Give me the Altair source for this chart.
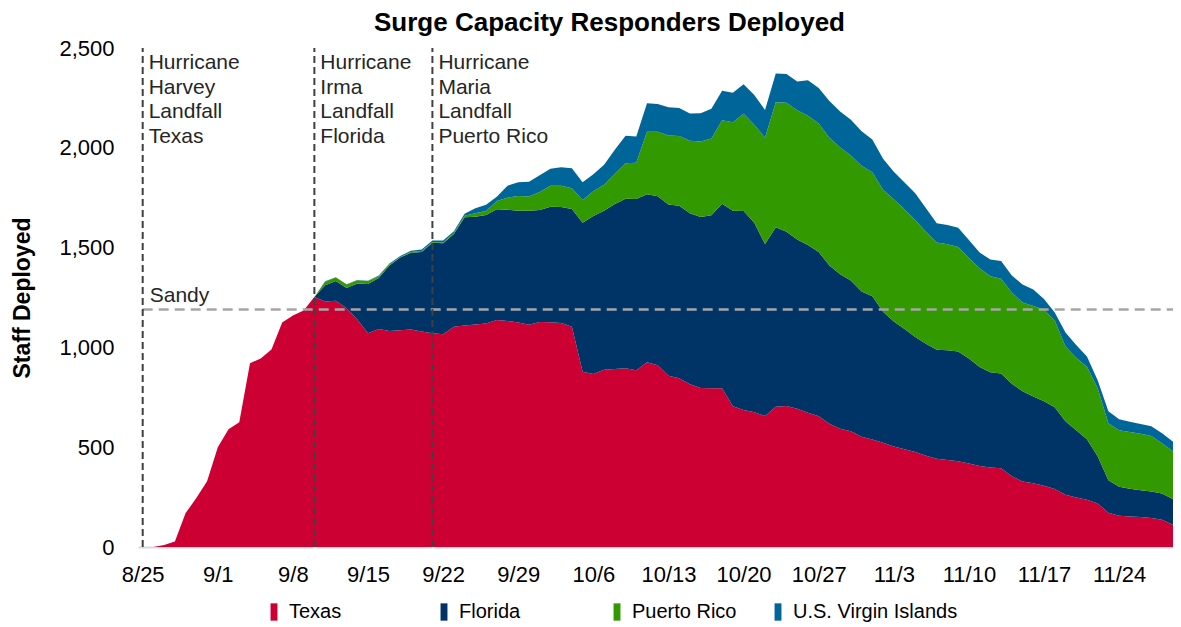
import altair as alt
import pandas as pd

# ---------------- data ----------------
series = ["Texas", "Florida", "Puerto Rico", "U.S. Virgin Islands"]
colors = ["#CC0033", "#003366", "#339900", "#006699"]
start_date = "2017-08-25"

texas = [0, 0, 10, 27, 170, 245, 330, 500, 590, 625,
         920, 945, 990, 1125, 1160, 1185, 1252, 1230, 1234, 1196,
         1140, 1071, 1092, 1082, 1086, 1090, 1080, 1071, 1066, 1104,
         1110, 1115, 1120, 1137, 1132, 1125, 1113, 1127, 1126, 1122,
         1104, 878, 867, 888, 892, 895, 886, 925, 910, 858,
         846, 815, 797, 795, 795, 705, 686, 675, 656, 703,
         706, 693, 673, 655, 618, 592, 580, 552, 538, 522,
         503, 490, 476, 457, 442, 436, 429, 418, 406, 398,
         394, 355, 328, 320, 307, 291, 262, 248, 237, 218,
         172, 156, 153, 150, 145, 136, 112, 103]

florida = [0, 0, 0, 0, 0, 0, 0, 0, 0, 0,
           0, 0, 0, 0, 0, 0, 0, 82, 99, 102,
           180, 247, 256, 328, 364, 384, 398, 453, 456, 464,
           542, 540, 543, 555, 558, 560, 571, 561, 579, 581,
           589, 747, 791, 797, 826, 850, 857, 842, 847, 858,
           864, 857, 856, 867, 925, 979, 997, 950, 862, 899,
           874, 847, 840, 823, 792, 775, 755, 728, 718, 656,
           627, 602, 576, 561, 546, 550, 551, 527, 496, 478,
           475, 463, 452, 434, 423, 409, 368, 337, 303, 237,
           163, 146, 139, 134, 133, 132, 128, 121]

puerto_rico = [0, 0, 0, 0, 0, 0, 0, 0, 0, 0,
               0, 0, 0, 0, 0, 0, 0, 17, 18, 17,
               17, 15, 9, 5, 3, 4, 5, 4, 4, 6,
               8, 17, 20, 41, 60, 74, 72, 90, 105, 107,
               104, 113, 124, 130, 152, 177, 182, 314, 324, 346,
               349, 363, 378, 384, 418, 444, 487, 490, 532, 626,
               646, 648, 647, 644, 640, 635, 627, 630, 622, 612,
               612, 600, 586, 562, 537, 531, 523, 503, 495, 480,
               475, 457, 445, 454, 459, 435, 375, 363, 363, 340,
               285, 283, 284, 283, 278, 252, 240, 242]

usvi = [0, 0, 0, 0, 0, 0, 0, 0, 0, 0,
        0, 0, 0, 0, 0, 0, 0, 2, 1, 1,
        1, 1, 3, 5, 5, 6, 8, 8, 9, 8,
        10, 25, 32, 22, 60, 69, 74, 84, 85, 93,
        100, 90, 86, 100, 120, 138, 131, 142, 139, 141,
        141, 137, 142, 150, 148, 148, 148, 150, 140, 144,
        144, 144, 178, 178, 185, 180, 178, 173, 164, 155,
        138, 134, 134, 117, 97, 96, 97, 90, 78, 85,
        89, 85, 90, 82, 53, 40, 70, 64, 52, 40,
        60, 55, 51, 49, 49, 50, 48, 42]

tick_labels = ["8/25", "9/1", "9/8", "9/15", "9/22", "9/29", "10/6",
               "10/13", "10/20", "10/27", "11/3", "11/10", "11/17", "11/24"]
y_ticks = [0, 500, 1000, 1500, 2000, 2500]

event_dates = ["2017-08-25T00:00:00", "2017-09-10T00:00:00", "2017-09-21T00:00:00"]
event_labels = ["Hurricane\nHarvey\nLandfall\nTexas",
                "Hurricane\nIrma\nLandfall\nFlorida",
                "Hurricane\nMaria\nLandfall\nPuerto Rico"]
sandy_level = 1190
sandy_label = "Sandy"
line_end = "2017-11-30T00:00:00"

# ---------------- tables ----------------
dates = pd.date_range(start_date, periods=len(texas), freq="D").strftime("%Y-%m-%dT00:00:00")
rows = []
for k, (name, vals) in enumerate(zip(series, [texas, florida, puerto_rico, usvi])):
    for d, v in zip(dates, vals):
        rows.append({"date": d, "series": name, "value": v, "k": k})
df = pd.DataFrame(rows)

events_df = pd.DataFrame({"date": event_dates, "label": event_labels})
sandy_df = pd.DataFrame({"x": [event_dates[0]], "x2": [line_end],
                         "y": [sandy_level], "label": [sandy_label]})

tick_values = [alt.DateTime(year=2017, month=int(s.split("/")[0]), date=int(s.split("/")[1]))
               for s in tick_labels]

FONT = "Liberation Sans"
NB = "\u00a0"   # no-break space (legend spacing)
ZW = "\u200b"   # zero-width end marker so the padding is kept

x_scale = alt.Scale(domain=[alt.DateTime(year=2017, month=8, date=24, hours=13, minutes=30),
                            alt.DateTime(year=2017, month=11, date=29, hours=0, minutes=30)])
y_scale = alt.Scale(domain=[0, 2500], nice=False)

x_axis = alt.Axis(values=tick_values, format="%-m/%-d", grid=False, ticks=False,
                  domainColor="#D9D9D9", domainWidth=2, labelFontSize=22,
                  labelPadding=17, labelColor="#000000", title=None,
                  labelFlush=False, labelOverlap=False, labelBound=False)
y_axis = alt.Axis(values=y_ticks, format=",.0f", grid=False, domain=False, ticks=False,
                  labelFontSize=22, labelPadding=24, labelColor="#000000",
                  title="Staff Deployed", titleFontSize=23, titleFontWeight="bold",
                  titleColor="#000000", titleX=-116, titleY=249.5, titleAngle=270,
                  titleAlign="center", titleBaseline="middle")

label_expr = ("datum.label == 'Texas' ? 'Texas" + NB * 13 + ZW + "' : "
              "datum.label == 'Florida' ? 'Florida" + NB * 12 + ZW + "' : "
              "datum.label == 'Puerto Rico' ? 'Puerto Rico" + NB * 2 + ZW + "' : datum.label")

legend = alt.Legend(orient="none", legendX=126, legendY=554, direction="horizontal",
                    title=None, symbolType="M-0.4,-1L0.4,-1L0.4,1L-0.4,1Z",
                    symbolSize=300, symbolStrokeWidth=0, labelFontSize=20,
                    labelColor="#000000", labelOffset=5, columnPadding=20, padding=0,
                    labelLimit=400, labelExpr=label_expr)

area = alt.Chart(df).mark_area(clip=True, interpolate="linear").encode(
    x=alt.X("date:T", scale=x_scale, axis=x_axis),
    y=alt.Y("value:Q", stack="zero", scale=y_scale, axis=y_axis),
    color=alt.Color("series:N", scale=alt.Scale(domain=series, range=colors), legend=legend),
    order=alt.Order("k:Q", sort="ascending"),
)

sandy_rule = alt.Chart(sandy_df).mark_rule(
    color="#A6A6A6", strokeWidth=2.5, strokeDash=[10, 6], clip=True
).encode(x="x:T", x2="x2:T", y="y:Q")

sandy_text = alt.Chart(sandy_df).mark_text(
    align="left", baseline="alphabetic", dx=7, dy=-7, fontSize=21,
    color="#262626", font=FONT
).encode(x="x:T", y="y:Q", text="label:N")

event_rules = alt.Chart(events_df).mark_rule(
    color="#404040", strokeWidth=2, strokeDash=[7, 4]
).encode(x="date:T", y=alt.datum(0), y2=alt.datum(2500))

event_text = alt.Chart(events_df).mark_text(
    align="left", baseline="top", dx=6, dy=4, fontSize=21, lineHeight=24.5,
    lineBreak="\n", color="#262626", font=FONT
).encode(x="date:T", y=alt.datum(2500), text="label:N")

chart = alt.layer(area, sandy_rule, sandy_text, event_rules, event_text).properties(
    width=1035, height=499,
    padding={"left": 130, "top": 40, "right": 0, "bottom": 75},
    autosize=alt.AutoSizeParams(type="none"),
    title=alt.TitleParams("Surge Capacity Responders Deployed", fontSize=26,
                          fontWeight="bold", color="#000000", dx=-46, offset=1,
                          anchor="middle", font=FONT),
).configure(font=FONT).configure_view(stroke=None)

chart.save("out.html", embed_options={"renderer": "svg", "actions": False})
